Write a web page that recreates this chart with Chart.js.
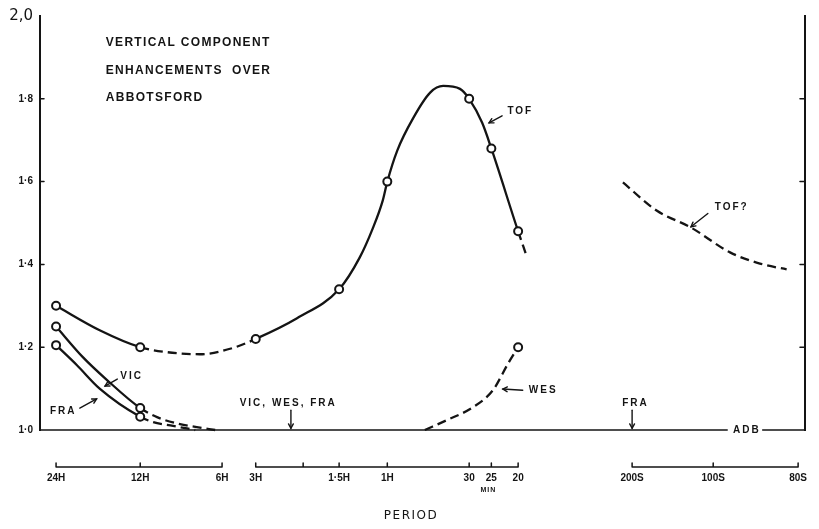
<!DOCTYPE html>
<html>
    <head>
        <meta charset="utf-8">
        <script src="https://cdn.jsdelivr.net/npm/chart.js@4.4.1/dist/chart.umd.min.js"></script>
        <style>
            body { margin: 0; background: #fff; }
        </style>
    </head>
    <body>
        <canvas id="wykres" width="819" height="529"></canvas>

        <script>
            // period axis (broken log scale drawn by hand): label and position along the axis
            const periodLabels = ['24H', '12H', '6H', '3H', '', '1·5H', '1H', '30', '25', '20', '200S', '100S', '80S'];
            const periodPos    = [2.1, 13.1, 23.8, 28.2, 34.4, 39.1, 45.4, 56.1, 59.0, 62.5, 77.4, 88.0, 99.1];

            const yTickValues = [1.0, 1.2, 1.4, 1.6, 1.8, 2.0];
            const yTickLabels = ['1·0', '1·2', '1·4', '1·6', '1·8', '2,0'];

            // measured enhancements (the circles)
            const tofPeriods = ['24H', '12H', '3H', '1·5H', '1H', '30', '25', '20'];
            const tofValues  = [1.30, 1.20, 1.22, 1.34, 1.60, 1.80, 1.68, 1.48];
            const vicPeriods = ['24H', '12H'];
            const vicValues  = [1.25, 1.053];
            const fraPeriods = ['24H', '12H'];
            const fraValues  = [1.205, 1.032];
            const wesPeriods = ['20'];
            const wesValues  = [1.20];

            // hand drawn curves
            const tofTraceX = [2.1, 7.8, 13.1, 16.6, 20.9, 25.2, 28.2, 33.6, 39.1, 41.8, 43.5, 44.8, 45.4, 46.7, 48.8, 51.0, 52.7, 54.9, 56.1, 57.8, 59.0, 62.5, 63.5];
            const tofTraceY = [1.30, 1.241, 1.20, 1.188, 1.183, 1.198, 1.22, 1.27, 1.34, 1.417, 1.487, 1.554, 1.60, 1.675, 1.754, 1.815, 1.831, 1.824, 1.80, 1.742, 1.68, 1.48, 1.426];
            const vicTraceX = [2.1, 5.6, 8.8, 13.1, 15.3, 18.3, 20.5, 22.9];
            const vicTraceY = [1.25, 1.176, 1.12, 1.053, 1.031, 1.014, 1.007, 1.0];
            const fraTraceX = [2.1, 4.8, 7.8, 13.1, 14.8, 17.4, 20.3];
            const fraTraceY = [1.205, 1.157, 1.10, 1.032, 1.019, 1.01, 1.0];
            const wesTraceX = [50.3, 53.2, 56.6, 59.2, 61.2, 62.5];
            const wesTraceY = [1.0, 1.024, 1.055, 1.096, 1.161, 1.20];
            const tofQTraceX = [76.2, 80.6, 85.1, 90.2, 94.1, 97.6];
            const tofQTraceY = [1.598, 1.53, 1.489, 1.429, 1.402, 1.388];
            const adbX = [0, 89.9, 92, 94.4, 100];
            const adbY = [1.0, 1.0, null, 1.0, 1.0];

            const ink = '#141414';
            const dash = [9, 5];

            const posOf = p => periodPos[periodLabels.indexOf(p)];
            const obs = (periods, values) => periods.map((p, i) => ({ x: posOf(p), y: values[i] }));
            const trace = (xs, ys) => xs.map((x, i) => ({ x: x, y: ys[i] }));

            // dashed stretches of each drawn curve
            function dashedFrom(ranges) {
                return ctx => ranges.some(r => ctx.p0.parsed.x >= r[0] && ctx.p1.parsed.x <= r[1]) ? dash : undefined;
            }

            function circles(data) {
                return { data: data, showLine: false, pointRadius: 4, pointBorderWidth: 2,
                         pointBackgroundColor: '#fff', pointBorderColor: ink, clip: false };
            }
            function curve(data, ranges) {
                return { data: data, borderColor: ink, borderWidth: 2.3, pointRadius: 0,
                         cubicInterpolationMode: 'monotone', clip: false,
                         segment: { borderDash: dashedFrom(ranges) } };
            }

            const notes = [
                { text: 'VERTICAL COMPONENT', x: 8.6, y: 1.935, size: 12, sp: 1.3 },
                { text: 'ENHANCEMENTS  OVER', x: 8.6, y: 1.867, size: 12, sp: 1.3 },
                { text: 'ABBOTSFORD', x: 8.6, y: 1.802, size: 12, sp: 1.3 },
                { text: 'TOF', x: 61.1, y: 1.771, arrow: [60.4, 1.759, 58.7, 1.742] },
                { text: 'VIC', x: 10.5, y: 1.130, arrow: [10.1, 1.123, 8.5, 1.106] },
                { text: 'FRA', x: 1.3, y: 1.046, arrow: [5.2, 1.053, 7.4, 1.075] },
                { text: 'VIC, WES, FRA', x: 26.1, y: 1.065, arrow: [32.8, 1.048, 32.8, 1.004] },
                { text: 'WES', x: 63.9, y: 1.096, arrow: [63.1, 1.096, 60.5, 1.099] },
                { text: 'FRA', x: 76.1, y: 1.065, arrow: [77.4, 1.048, 77.4, 1.004] },
                { text: 'ADB', x: 90.6, y: 1.0 },
                { text: 'TOF?', x: 88.2, y: 1.537, arrow: [87.3, 1.523, 85.1, 1.491] }
            ];

            function arrow(ctx, x0, y0, x1, y1) {
                ctx.beginPath(); ctx.moveTo(x0, y0); ctx.lineTo(x1, y1); ctx.stroke();
                const a = Math.atan2(y1 - y0, x1 - x0), h = 5;
                ctx.beginPath();
                ctx.moveTo(x1 - h * Math.cos(a - 0.5), y1 - h * Math.sin(a - 0.5));
                ctx.lineTo(x1, y1);
                ctx.lineTo(x1 - h * Math.cos(a + 0.5), y1 - h * Math.sin(a + 0.5));
                ctx.stroke();
            }

            const paperMarks = {
                id: 'paperMarks',
                afterDraw(chart) {
                    const { ctx, chartArea, scales: { x, y } } = chart;
                    ctx.save();
                    ctx.strokeStyle = ink;
                    ctx.fillStyle = ink;
                    ctx.lineCap = 'round';

                    // small inward ticks on both value axes
                    ctx.lineWidth = 1.5;
                    yTickValues.slice(1, -1).forEach(v => {
                        const py = y.getPixelForValue(v);
                        ctx.beginPath();
                        ctx.moveTo(chartArea.left, py); ctx.lineTo(chartArea.left + 4, py);
                        ctx.moveTo(chartArea.right - 5, py); ctx.lineTo(chartArea.right, py);
                        ctx.stroke();
                    });

                    // the three period scales under the plot
                    const by = chartArea.bottom + 37;
                    [[0, 2], [3, 9], [10, 12]].forEach(g => {
                        ctx.beginPath();
                        ctx.moveTo(x.getPixelForValue(periodPos[g[0]]), by);
                        ctx.lineTo(x.getPixelForValue(periodPos[g[1]]), by);
                        for (let i = g[0]; i <= g[1]; i++) {
                            const px = x.getPixelForValue(periodPos[i]);
                            ctx.moveTo(px, by); ctx.lineTo(px, by - 4);
                        }
                        ctx.stroke();
                    });

                    // labels and arrows
                    ctx.textBaseline = 'middle';
                    ctx.textAlign = 'left';
                    notes.forEach(n => {
                        ctx.font = 'bold ' + (n.size || 10) + 'px "Liberation Sans"';
                        ctx.letterSpacing = (n.sp || 2) + 'px';
                        ctx.fillText(n.text, x.getPixelForValue(n.x), y.getPixelForValue(n.y));
                        if (n.arrow) {
                            ctx.lineWidth = 1.4;
                            arrow(ctx, x.getPixelForValue(n.arrow[0]), y.getPixelForValue(n.arrow[1]),
                                       x.getPixelForValue(n.arrow[2]), y.getPixelForValue(n.arrow[3]));
                        }
                    });

                    ctx.textAlign = 'center';
                    ctx.font = 'bold 7px "Liberation Sans"';
                    ctx.letterSpacing = '1px';
                    ctx.fillText('MIN', x.getPixelForValue(posOf('25')) - 3, chartArea.bottom + 60);

                    ctx.font = '12px "DejaVu Sans"';
                    ctx.letterSpacing = '1.5px';
                    ctx.fillText('PERIOD', x.getPixelForValue(48.5), chartArea.bottom + 86);
                    ctx.letterSpacing = '0px';
                    ctx.restore();
                }
            };

            const ctx = document.getElementById('wykres').getContext('2d');
            const wykres = new Chart(ctx, {
                type: 'line',
                data: {
                    datasets: [
                        circles(obs(tofPeriods, tofValues)),
                        circles(obs(vicPeriods, vicValues)),
                        circles(obs(fraPeriods, fraValues)),
                        circles(obs(wesPeriods, wesValues)),
                        curve(trace(tofTraceX, tofTraceY), [[13.1, 28.2], [62.5, 100]]),
                        curve(trace(vicTraceX, vicTraceY), [[13.1, 100]]),
                        curve(trace(fraTraceX, fraTraceY), [[13.1, 100]]),
                        curve(trace(wesTraceX, wesTraceY), [[0, 100]]),
                        curve(trace(tofQTraceX, tofQTraceY), [[0, 100]]),
                        { data: trace(adbX, adbY), borderColor: ink, borderWidth: 1.6, pointRadius: 0,
                          spanGaps: false, tension: 0, clip: false }
                    ]
                },
                options: {
                    responsive: false,
                    animation: false,
                    events: [],
                    layout: { padding: { top: 15, left: 0, right: 0, bottom: 0 } },
                    plugins: { legend: { display: false }, tooltip: { enabled: false } },
                    scales: {
                        x: {
                            type: 'linear', min: 0, max: 100,
                            afterBuildTicks: s => { s.ticks = periodPos.map(v => ({ value: v })); },
                            afterFit: s => { s.height = 99; s.paddingLeft = 0; s.paddingRight = 0; },
                            grid: { display: false, drawTicks: false },
                            border: { display: false },
                            ticks: {
                                autoSkip: false, maxRotation: 0, padding: 42, color: ink,
                                font: { family: 'Liberation Sans', weight: 'bold', size: 10 },
                                callback: (v, i) => periodLabels[i]
                            }
                        },
                        y: {
                            type: 'linear', min: 1, max: 2, position: 'left',
                            afterBuildTicks: s => { s.ticks = yTickValues.map(v => ({ value: v })); },
                            afterFit: s => { s.width = 40; },
                            grid: { display: false, drawTicks: false },
                            border: { display: true, color: ink, width: 2 },
                            ticks: {
                                padding: 7, color: ink,
                                font: c => c.tick && c.tick.value === 2
                                    ? { family: 'DejaVu Sans', size: 15 }
                                    : { family: 'Liberation Sans', weight: 'bold', size: 10 },
                                callback: (v, i) => yTickLabels[i]
                            }
                        },
                        y2: {
                            type: 'linear', min: 1, max: 2, position: 'right',
                            afterFit: s => { s.width = 14; },
                            grid: { display: false, drawTicks: false },
                            border: { display: true, color: ink, width: 2 },
                            ticks: { display: false }
                        }
                    }
                },
                plugins: [paperMarks]
            });
        </script>
    </body>
</html>
